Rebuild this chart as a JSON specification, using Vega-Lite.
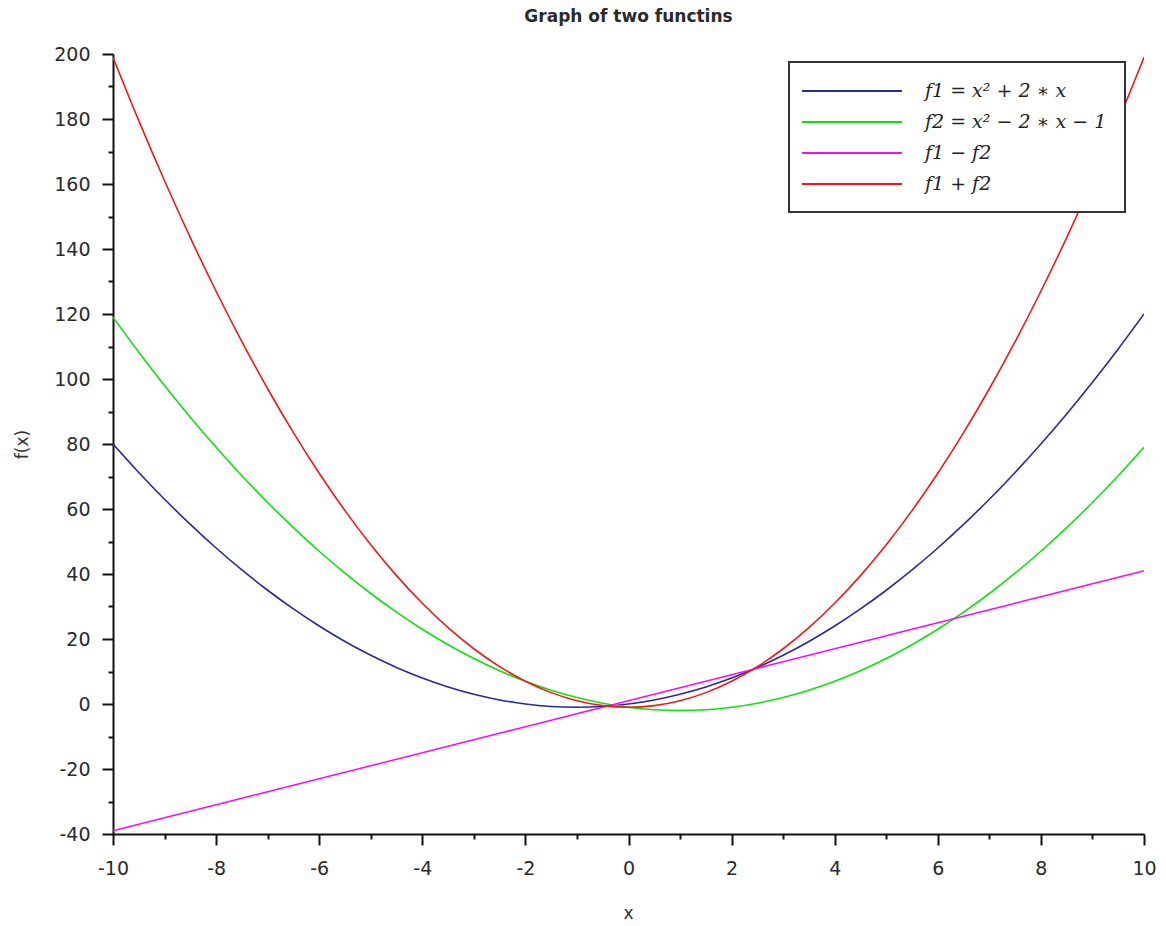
{
  "$schema": "https://vega.github.io/schema/vega-lite/v6.json",
  "width": 1031,
  "height": 780,
  "autosize": {"type": "none"},
  "padding": {"left": 113, "top": 54, "right": 22, "bottom": 92},
  "background": "white",
  "title": {
    "text": "Graph of two functins",
    "font": "DejaVu Sans",
    "fontSize": 17,
    "fontWeight": "bold",
    "color": "#2a2a2a",
    "anchor": "middle",
    "offset": 19
  },
  "data": {
    "values": [
      {"x": -10, "f1": 80, "f2": 119, "d": -39, "s": 199},
      {"x": -9.5, "f1": 71.25, "f2": 108.25, "d": -37, "s": 179.5},
      {"x": -9, "f1": 63, "f2": 98, "d": -35, "s": 161},
      {"x": -8.5, "f1": 55.25, "f2": 88.25, "d": -33, "s": 143.5},
      {"x": -8, "f1": 48, "f2": 79, "d": -31, "s": 127},
      {"x": -7.5, "f1": 41.25, "f2": 70.25, "d": -29, "s": 111.5},
      {"x": -7, "f1": 35, "f2": 62, "d": -27, "s": 97},
      {"x": -6.5, "f1": 29.25, "f2": 54.25, "d": -25, "s": 83.5},
      {"x": -6, "f1": 24, "f2": 47, "d": -23, "s": 71},
      {"x": -5.5, "f1": 19.25, "f2": 40.25, "d": -21, "s": 59.5},
      {"x": -5, "f1": 15, "f2": 34, "d": -19, "s": 49},
      {"x": -4.5, "f1": 11.25, "f2": 28.25, "d": -17, "s": 39.5},
      {"x": -4, "f1": 8, "f2": 23, "d": -15, "s": 31},
      {"x": -3.5, "f1": 5.25, "f2": 18.25, "d": -13, "s": 23.5},
      {"x": -3, "f1": 3, "f2": 14, "d": -11, "s": 17},
      {"x": -2.5, "f1": 1.25, "f2": 10.25, "d": -9, "s": 11.5},
      {"x": -2, "f1": 0, "f2": 7, "d": -7, "s": 7},
      {"x": -1.5, "f1": -0.75, "f2": 4.25, "d": -5, "s": 3.5},
      {"x": -1, "f1": -1, "f2": 2, "d": -3, "s": 1},
      {"x": -0.5, "f1": -0.75, "f2": 0.25, "d": -1, "s": -0.5},
      {"x": 0, "f1": 0, "f2": -1, "d": 1, "s": -1},
      {"x": 0.5, "f1": 1.25, "f2": -1.75, "d": 3, "s": -0.5},
      {"x": 1, "f1": 3, "f2": -2, "d": 5, "s": 1},
      {"x": 1.5, "f1": 5.25, "f2": -1.75, "d": 7, "s": 3.5},
      {"x": 2, "f1": 8, "f2": -1, "d": 9, "s": 7},
      {"x": 2.5, "f1": 11.25, "f2": 0.25, "d": 11, "s": 11.5},
      {"x": 3, "f1": 15, "f2": 2, "d": 13, "s": 17},
      {"x": 3.5, "f1": 19.25, "f2": 4.25, "d": 15, "s": 23.5},
      {"x": 4, "f1": 24, "f2": 7, "d": 17, "s": 31},
      {"x": 4.5, "f1": 29.25, "f2": 10.25, "d": 19, "s": 39.5},
      {"x": 5, "f1": 35, "f2": 14, "d": 21, "s": 49},
      {"x": 5.5, "f1": 41.25, "f2": 18.25, "d": 23, "s": 59.5},
      {"x": 6, "f1": 48, "f2": 23, "d": 25, "s": 71},
      {"x": 6.5, "f1": 55.25, "f2": 28.25, "d": 27, "s": 83.5},
      {"x": 7, "f1": 63, "f2": 34, "d": 29, "s": 97},
      {"x": 7.5, "f1": 71.25, "f2": 40.25, "d": 31, "s": 111.5},
      {"x": 8, "f1": 80, "f2": 47, "d": 33, "s": 127},
      {"x": 8.5, "f1": 89.25, "f2": 54.25, "d": 35, "s": 143.5},
      {"x": 9, "f1": 99, "f2": 62, "d": 37, "s": 161},
      {"x": 9.5, "f1": 109.25, "f2": 70.25, "d": 39, "s": 179.5},
      {"x": 10, "f1": 120, "f2": 79, "d": 41, "s": 199}
    ]
  },
  "transform": [
    {"fold": ["f1", "f2", "d", "s"], "as": ["series", "value"]}
  ],
  "mark": {"type": "line", "strokeWidth": 1.6, "clip": true, "interpolate": "monotone"},
  "encoding": {
    "x": {
      "field": "x",
      "type": "quantitative",
      "scale": {"domain": [-10, 10], "nice": false, "zero": false},
      "axis": {
        "title": "x",
        "titleFont": "DejaVu Sans",
        "titleFontSize": 17,
        "titleFontWeight": "normal",
        "titleColor": "#333333",
        "titleX": 515,
        "titleY": 79,
        "titleAlign": "center",
        "titleBaseline": "middle",
        "values": [-10, -9, -8, -7, -6, -5, -4, -3, -2, -1, 0, 1, 2, 3, 4, 5, 6, 7, 8, 9, 10],
        "labelExpr": "datum.value % 2 === 0 ? '' + datum.value : ''",
        "labelOverlap": false,
        "labelFlush": false,
        "labelFont": "DejaVu Sans",
        "labelFontSize": 19,
        "labelColor": "#2a2a2a",
        "labelPadding": 14,
        "tickSize": {"condition": {"test": "datum.value % 2 === 0", "value": 11}, "value": 5},
        "tickColor": "#111111",
        "tickWidth": 2,
        "domainColor": "#111111",
        "domainWidth": 2,
        "grid": false
      }
    },
    "y": {
      "field": "value",
      "type": "quantitative",
      "scale": {"domain": [-40, 200], "nice": false, "zero": false},
      "axis": {
        "title": "f(x)",
        "titleFont": "DejaVu Sans",
        "titleFontSize": 17,
        "titleFontWeight": "normal",
        "titleColor": "#333333",
        "titleX": -91,
        "titleY": 390,
        "titleAngle": -90,
        "titleAlign": "center",
        "titleBaseline": "middle",
        "values": [-40, -30, -20, -10, 0, 10, 20, 30, 40, 50, 60, 70, 80, 90, 100, 110, 120, 130, 140, 150, 160, 170, 180, 190, 200],
        "labelExpr": "datum.value % 20 === 0 ? '' + datum.value : ''",
        "labelOverlap": false,
        "labelFlush": false,
        "labelFont": "DejaVu Sans",
        "labelFontSize": 19,
        "labelColor": "#2a2a2a",
        "labelPadding": 12,
        "tickSize": {"condition": {"test": "datum.value % 20 === 0", "value": 11}, "value": 5},
        "tickColor": "#111111",
        "tickWidth": 2,
        "domainColor": "#111111",
        "domainWidth": 2,
        "grid": false
      }
    },
    "color": {
      "field": "series",
      "type": "nominal",
      "scale": {
        "domain": ["f1", "f2", "d", "s"],
        "range": ["#2a2a90", "#10e010", "#f010f0", "#f01818"]
      },
      "legend": {
        "title": null,
        "orient": "none",
        "legendX": 676,
        "legendY": 8,
        "symbolType": "M-5,0H5",
        "symbolSize": 400,
        "symbolStrokeWidth": 2,
        "symbolOffset": 34,
        "labelFont": "DejaVu Serif",
        "labelFontStyle": "italic",
        "labelFontSize": 19,
        "labelColor": "#222222",
        "labelOffset": 62,
        "labelLimit": 400,
        "rowPadding": 10,
        "padding": 18,
        "fillColor": "white",
        "strokeColor": "#333333",
        "labelExpr": "datum.value === 'f1' ? 'f1 = x² + 2 ∗ x' : datum.value === 'f2' ? 'f2 = x² − 2 ∗ x − 1' : datum.value === 'd' ? 'f1 − f2' : 'f1 + f2'"
      }
    }
  },
  "config": {
    "view": {"stroke": null},
    "legend": {"strokeWidth": 2}
  }
}
